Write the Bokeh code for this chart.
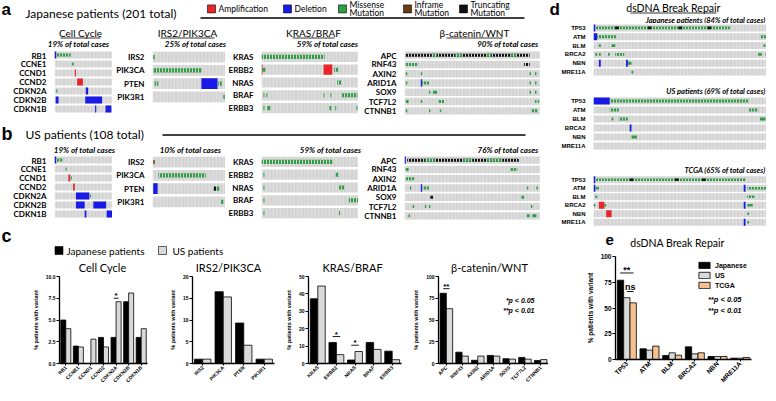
import math
from bokeh.plotting import figure
from bokeh.models import (Range1d, FactorRange, ColumnDataSource, Label, Legend,
                          LegendItem, FixedTicker, Spacer)
from bokeh.layouts import row, column
from bokeh.transform import dodge
from bokeh.core.properties import value
from bokeh.embed import file_html
from bokeh.resources import INLINE

# ---------------- data: oncoprints (gene, start %, end %, alteration) ----------------
TRACK = 100

CC_GENES = ["RB1", "CCNE1", "CCND1", "CCND2", "CDKN2A", "CDKN2B", "CDKN1B"]
IRS_GENES = ["IRS2", "PIK3CA", "PTEN", "PIK3R1"]
KR_GENES = ["KRAS", "ERBB2", "NRAS", "BRAF", "ERBB3"]
WNT_GENES = ["APC", "RNF43", "AXIN2", "ARID1A", "SOX9", "TCF7L2", "CTNNB1"]
DS_GENES = ["TP53", "ATM", "BLM", "BRCA2", "NBN", "MRE11A"]

JP_CC_ALT = [("RB1", 0, 3, "del"), ("RB1", 4, 28, "mis"), ("CCNE1", 30, 33, "mis"),
             ("CCND1", 35, 37, "amp"), ("CCND2", 39, 49, "amp"), ("CDKN2A", 3, 5, "mis"),
             ("CDKN2A", 54, 58, "del"), ("CDKN2B", 2, 7, "del"), ("CDKN2B", 53, 82, "del"),
             ("CDKN1B", 70, 72, "del"), ("CDKN1B", 88, 98, "del")]
JP_IRS_ALT = [("IRS2", 1, 3, "mis"), ("PIK3CA", 1, 67, "mis"), ("PTEN", 3, 8, "mis"),
              ("PTEN", 67, 89, "del"), ("PTEN", 90, 95, "mis"), ("PIK3R1", 97, 99, "mis")]
JP_KR_ALT = [("KRAS", 0, 65, "mis"), ("ERBB2", 0, 1, "amp"), ("ERBB2", 1, 4, "mis"),
             ("ERBB2", 64, 73, "amp"), ("ERBB2", 75, 80, "mis"), ("NRAS", 78, 83, "mis"),
             ("BRAF", 2, 3, "mis"), ("BRAF", 5, 6, "mis"), ("BRAF", 64, 65, "mis"),
             ("BRAF", 71, 72, "mis"), ("BRAF", 83, 99, "mis"), ("ERBB3", 2, 3, "mis"),
             ("ERBB3", 6, 9, "mis"), ("ERBB3", 70, 72, "mis"), ("ERBB3", 76, 77, "mis"),
             ("ERBB3", 98, 99, "mis")]
JP_WNT_ALT = [("APC", 1, 92, "trunc"), ("APC", 20, 24, "mis"), ("APC", 37, 43, "mis"),
              ("APC", 60, 64, "mis"), ("APC", 78, 82, "mis"), ("RNF43", 1, 10, "mis"),
              ("RNF43", 88, 92, "trunc"), ("AXIN2", 1, 2, "mis"), ("AXIN2", 12, 13, "mis"),
              ("AXIN2", 92, 93, "mis"), ("AXIN2", 96, 97, "mis"), ("ARID1A", 1, 2, "mis"),
              ("ARID1A", 12, 13, "del"), ("ARID1A", 13, 18, "mis"), ("ARID1A", 92, 93, "mis"),
              ("ARID1A", 96, 97, "mis"), ("SOX9", 18, 19, "mis"), ("SOX9", 21, 24, "mis"),
              ("SOX9", 92, 93, "mis"), ("SOX9", 96, 97, "mis"), ("TCF7L2", 1, 3, "mis"),
              ("TCF7L2", 12, 13, "mis"), ("TCF7L2", 25, 29, "mis"), ("TCF7L2", 96, 97, "mis"),
              ("TCF7L2", 98, 99, "mis"), ("CTNNB1", 1, 2, "mis"), ("CTNNB1", 18, 19, "mis"),
              ("CTNNB1", 26, 27, "mis"), ("CTNNB1", 93, 98, "mis")]

US_CC_ALT = [("RB1", 0, 3, "del"), ("RB1", 3, 14, "mis"), ("CCNE1", 19, 21, "mis"),
             ("CCND1", 24, 27, "amp"), ("CCND1", 28, 30, "mis"), ("CCND2", 32, 35, "amp"),
             ("CDKN2A", 37, 60, "del"), ("CDKN2A", 61, 63, "mis"), ("CDKN2B", 37, 52, "del"),
             ("CDKN2B", 67, 89, "del"), ("CDKN1B", 52, 55, "del"), ("CDKN1B", 90, 100, "del")]
US_IRS_ALT = [("IRS2", 1, 3, "inf"), ("PIK3CA", 8, 73, "mis"), ("PTEN", 1, 7, "del"),
              ("PTEN", 84, 87, "trunc"), ("PTEN", 88, 92, "mis"), ("PIK3R1", 94, 97, "mis")]
US_KR_ALT = [("KRAS", 0, 73, "mis"), ("ERBB2", 2, 3, "mis"), ("ERBB2", 76, 80, "mis"),
             ("NRAS", 2, 3, "mis"), ("NRAS", 80, 86, "mis"), ("BRAF", 2, 3, "mis"),
             ("BRAF", 90, 100, "mis"), ("ERBB3", 2, 3, "mis"), ("ERBB3", 80, 81, "mis")]
US_WNT_ALT = [("APC", 0, 1, "del"), ("APC", 2, 84, "trunc"), ("APC", 15, 23, "mis"),
              ("APC", 43, 50, "mis"), ("APC", 60, 72, "mis"), ("RNF43", 1, 3, "mis"),
              ("RNF43", 78, 83, "mis"), ("AXIN2", 1, 7, "mis"), ("ARID1A", 4, 5, "mis"),
              ("ARID1A", 12, 13, "del"), ("ARID1A", 14, 18, "mis"), ("ARID1A", 90, 91, "mis"),
              ("ARID1A", 97, 98, "mis"), ("SOX9", 19, 21, "trunc"), ("SOX9", 86, 88, "mis"),
              ("TCF7L2", 6, 7, "mis"), ("TCF7L2", 15, 16, "mis"), ("TCF7L2", 18, 19, "mis"),
              ("TCF7L2", 93, 94, "mis"), ("CTNNB1", 3, 4, "mis"), ("CTNNB1", 90, 92, "mis"),
              ("CTNNB1", 94, 97, "mis")]

JPD_ALT = [("TP53", 0, 1, "del"), ("TP53", 1, 76, "mis"), ("TP53", 12, 14, "trunc"),
           ("TP53", 30, 32, "trunc"), ("TP53", 47, 49, "trunc"), ("TP53", 63, 65, "trunc"),
           ("ATM", 0, 2, "del"), ("ATM", 2, 13, "mis"), ("ATM", 92, 96, "mis"),
           ("BLM", 3, 4, "mis"), ("BLM", 10, 12, "mis"), ("BLM", 94, 95, "mis"),
           ("BRCA2", 1, 2, "mis"), ("BRCA2", 3, 4, "mis"), ("BRCA2", 8, 9, "mis"),
           ("BRCA2", 12, 17, "mis"), ("BRCA2", 91, 93, "mis"), ("BRCA2", 95, 98, "mis"),
           ("NBN", 3, 4, "del"), ("NBN", 18, 19, "del"), ("NBN", 19, 21, "mis"),
           ("MRE11A", 21, 22, "mis"), ("MRE11A", 96, 97, "mis")]
USD_ALT = [("TP53", 0, 9, "del"), ("TP53", 9, 86, "mis"), ("ATM", 9, 14, "mis"),
           ("ATM", 86, 91, "mis"), ("BLM", 10, 11, "mis"), ("BLM", 14, 19, "mis"),
           ("BLM", 92, 95, "mis"), ("BRCA2", 20, 21, "del"), ("BRCA2", 96, 97, "trunc"),
           ("BRCA2", 98, 100, "mis"), ("NBN", 21, 24, "mis"), ("MRE11A", 98, 99, "mis")]
TCGA_ALT = [("TP53", 0, 1, "del"), ("TP53", 1, 84, "mis"), ("TP53", 20, 22, "trunc"),
            ("TP53", 45, 47, "trunc"), ("TP53", 60, 62, "trunc"), ("ATM", 0, 1, "del"),
            ("ATM", 1, 3, "mis"), ("ATM", 83, 84, "del"), ("ATM", 85, 99, "mis"),
            ("BLM", 1, 2, "mis"), ("BLM", 85, 89, "mis"), ("BLM", 96, 97, "mis"),
            ("BRCA2", 0, 1, "mis"), ("BRCA2", 3, 6, "amp"), ("BRCA2", 6, 7, "mis"),
            ("BRCA2", 83, 84, "del"), ("BRCA2", 85, 88, "mis"), ("BRCA2", 96, 97, "mis"),
            ("NBN", 7, 10, "amp"), ("NBN", 85, 86, "mis"), ("NBN", 98, 100, "amp"),
            ("MRE11A", 83, 84, "del"), ("MRE11A", 85, 86, "mis")]

# ---------------- data: bar charts (% patients with variant) ----------------
CC_JP = [5.0, 2.0, 0.0, 3.0, 3.0, 7.1, 3.0]
CC_US = [4.0, 1.9, 2.8, 1.9, 7.1, 8.1, 4.0]
IRS_JP = [1.0, 16.5, 9.3, 1.0]
IRS_US = [1.0, 15.3, 4.2, 1.0]
KR_JP = [37.2, 12.1, 2.0, 12.1, 7.1]
KR_US = [44.5, 5.1, 6.9, 8.1, 2.2]
WNT_JP = [80.7, 13.0, 3.7, 9.3, 5.5, 7.0, 3.5]
WNT_US = [63.0, 8.5, 8.5, 8.5, 5.0, 5.0, 4.5]
DS_JP = [77.0, 10.4, 3.9, 12.3, 2.9, 1.3]
DS_US = [60.0, 9.1, 6.5, 5.5, 2.9, 1.3]
DS_TCGA = [55.0, 13.0, 4.2, 6.5, 2.9, 2.0]

CC_SIG = [("CDKN2A", -0.2, 0.2, 7.5, "*")]
KR_SIG = [("ERBB2", -0.2, 0.2, 15.5, "*"), ("NRAS", -0.2, 0.2, 10.5, "*")]
WNT_SIG = [("APC", -0.2, 0.2, 86.0, "**")]
DS_SIG = [("TP53", -0.3, 0.3, 84.0, "**"), ("TP53", 0.0, 0.3, 66.0, "ns")]

# ---------------- styles ----------------
FONT = "Lato"
AXF = "Liberation Sans"
C_AMP, C_DEL, C_MIS, C_INF, C_TRU = "#e8262a", "#1a1ae6", "#2f9e44", "#6b3d12", "#111111"
C_BG = "#d3d3d3"
C_JP, C_US, C_TCGA = "#000000", "#d9d9d9", "#f6c18e"


def base_fig(**kw):
    return figure(output_backend="svg", toolbar_location=None, frame_align=False, **kw)


def blank(x0, x1, y0, y1):
    p = base_fig(width=x1 - x0, height=y1 - y0, x_range=Range1d(x0, x1),
                 y_range=Range1d(y1, y0), x_axis_location=None, y_axis_location=None,
                 min_border_left=0, min_border_right=0, min_border_top=0, min_border_bottom=0)
    p.grid.visible = False
    p.outline_line_color = None
    return p


def txt(p, x, y, s, size, style="normal", align="left", font=FONT):
    p.text(x=[x], y=[y], text=[s], text_font=value(font), text_font_size=f"{size}px",
           text_font_style=style, text_align=align, text_baseline="middle", text_color="black")


def uline(p, x0, x1, y, w=1.0):
    p.segment(x0=[x0], y0=[y], x1=[x1], y1=[y], line_color="black", line_width=w)


def swatch(p, cx, cy, color, s=8):
    p.rect(x=[cx], y=[cy], width=s, height=s, fill_color=color, line_color="black", line_width=0.6)


KIND_STYLE = [("amp", C_AMP, 0.8), ("del", C_DEL, 0.8), ("trunc", C_TRU, 0.32),
              ("inf", C_INF, 0.32), ("mis", C_MIS, 0.32)]


def onco(genes, alts, w, h, left, bottom=0, top=0, xmax=TRACK, lab_font=FONT, lab_size=8):
    p = base_fig(width=w, height=h, x_range=Range1d(0, xmax), y_range=FactorRange(*genes[::-1]),
                 x_axis_location=None, min_border_left=left, min_border_right=0,
                 min_border_top=top, min_border_bottom=bottom)
    p.grid.visible = False
    p.outline_line_color = None
    ax = p.yaxis[0]
    ax.axis_line_color = None
    ax.major_tick_line_color = None
    ax.minor_tick_line_color = None
    ax.major_label_standoff = 2
    ax.major_label_text_font = lab_font
    ax.major_label_text_font_size = f"{lab_size}px"
    ax.major_label_text_font_style = "bold"
    ax.major_label_text_color = "black"
    p.hbar(y=genes, left=0, right=TRACK, height=0.8, fill_color=C_BG, line_color=None,
           hatch_pattern="|", hatch_color="white", hatch_alpha=0.55, hatch_scale=3.5,
           hatch_weight=0.7)
    for kind, col, hh in KIND_STYLE[:2]:
        sel = [a for a in alts if a[3] == kind]
        if sel:
            p.hbar(y=[a[0] for a in sel], left=[a[1] for a in sel], right=[a[2] for a in sel],
                   height=hh, fill_color=col, line_color=None)
    for kind, col, hh in KIND_STYLE[2:]:
        sel = [a for a in alts if a[3] == kind and a[2] - a[1] > 3]
        if sel:
            p.hbar(y=[a[0] for a in sel], left=[a[1] for a in sel], right=[a[2] for a in sel],
                   height=hh, fill_color=col, line_color=None, hatch_pattern="|",
                   hatch_color=C_BG, hatch_scale=3.0, hatch_weight=1.0)
    for kind, col, hh in KIND_STYLE[2:]:
        sel = [a for a in alts if a[3] == kind and a[2] - a[1] <= 3]
        if sel:
            p.hbar(y=[a[0] for a in sel], left=[a[1] for a in sel], right=[a[2] for a in sel],
                   height=hh, fill_color=col, line_color=None)
    return p


def bar_chart(genes, series, colors, ymax, ticks, labels, fw, fh, left, right, top,
              bw, offsets, tick_px, lab_px, sig, star_px):
    p = base_fig(frame_width=fw, frame_height=fh, x_range=FactorRange(*genes),
                 y_range=Range1d(0, ymax), min_border_left=left, min_border_right=right,
                 min_border_top=top, min_border_bottom=4)
    data = {"g": genes}
    for i, s in enumerate(series):
        data[f"s{i}"] = s
    src = ColumnDataSource(data)
    rends = []
    for i, c in enumerate(colors):
        rends.append(p.vbar(x=dodge("g", offsets[i], range=p.x_range), top=f"s{i}", width=bw,
                            source=src, fill_color=c, line_color="black", line_width=0.8))
    for g, a, b, y, t in sig:
        s1 = ColumnDataSource(dict(g=[g], y=[y], t=[t]))
        p.segment(x0=dodge("g", a, range=p.x_range), x1=dodge("g", b, range=p.x_range),
                  y0="y", y1="y", source=s1, line_color="black", line_width=0.9)
        p.text(x=dodge("g", (a + b) / 2, range=p.x_range), y="y", text="t", source=s1,
               text_align="center", text_baseline="bottom", text_font=value(AXF),
               text_font_size=f"{star_px}px", text_font_style="bold",
               y_offset=(2 if t != "ns" else 0))
    p.grid.visible = False
    p.outline_line_color = None
    p.yaxis.ticker = FixedTicker(ticks=ticks)
    p.yaxis.major_label_overrides = {t: l for t, l in zip(ticks, labels)}
    for ax in p.axis:
        ax.axis_line_width = 1.3
        ax.axis_line_color = "black"
        ax.major_tick_line_color = "black"
        ax.major_tick_line_width = 1.1
        ax.major_tick_in = 0
        ax.major_tick_out = 3
        ax.minor_tick_line_color = None
        ax.major_label_text_font = AXF
        ax.major_label_text_font_style = "bold"
        ax.major_label_text_font_size = f"{tick_px}px"
        ax.major_label_text_color = "black"
        ax.major_label_standoff = 1
    p.xaxis.major_label_orientation = math.pi / 4
    p.xaxis.major_tick_out = 2
    p.yaxis.axis_label = "% patients with variant"
    p.yaxis.axis_label_text_font = AXF
    p.yaxis.axis_label_text_font_size = f"{lab_px}px"
    p.yaxis.axis_label_text_font_style = "bold"
    p.yaxis.axis_label_text_color = "black"
    p.yaxis.axis_label_standoff = 4
    return p, rends


# ================= left column (ref x 8..550) =================
hA = blank(8, 550, 8, 58)
txt(hA, 9, 17, "a", 17, "bold", font=AXF)
txt(hA, 33, 21, "Japanese patients (201 total)", 12)
LY, L1, L2 = 16.4, 12.4, 20.6
swatch(hA, 219, LY, C_AMP)
txt(hA, 226, LY, "Amplification", 8.5)
swatch(hA, 295, LY, C_DEL)
txt(hA, 302, LY, "Deletion", 8.5)
swatch(hA, 350, LY, C_MIS)
txt(hA, 357, L1, "Missense", 8.5)
txt(hA, 357, L2, "Mutation", 8.5)
swatch(hA, 415, LY, C_INF)
txt(hA, 422, L1, "Inframe", 8.5)
txt(hA, 422, L2, "Mutation", 8.5)
swatch(hA, 471, LY, C_TRU)
txt(hA, 478, L1, "Truncating", 8.5)
txt(hA, 478, L2, "Mutation", 8.5)
uline(hA, 208, 532, 25.5, 1.5)
for cx, t, x0, x1 in [(88, "Cell Cycle", 68, 108), (195, "IRS2/PIK3CA", 168, 222),
                      (321, "KRAS/BRAF", 300, 342), (482, "β-catenin/WNT", 454, 510)]:
    txt(hA, cx, 40, t, 10, align="center")
    uline(hA, x0, x1, 45.5, 0.8)
txt(hA, 86, 51.5, "19% of total cases", 8, "bold italic", "center")
txt(hA, 203, 51.5, "25% of total cases", 8, "bold italic", "center")
txt(hA, 335, 51.5, "59% of total cases", 8, "bold italic", "center")
txt(hA, 546, 51.5, "90% of total cases", 8, "bold italic", "right")

oA = row(onco(CC_GENES, JP_CC_ALT, 112, 65, 54, bottom=2),
         onco(IRS_GENES, JP_IRS_ALT, 113, 65, 40, bottom=12),
         onco(KR_GENES, JP_KR_ALT, 133, 65, 35, bottom=1),
         onco(WNT_GENES, JP_WNT_ALT, 182, 65, 46, bottom=0),
         Spacer(width=2, height=65))

hB = blank(8, 550, 123, 163)
txt(hB, 9, 141, "b", 18, "bold", font=AXF)
txt(hB, 33, 142, "US patients (108 total)", 12)
uline(hB, 170, 533, 142.5, 1.5)
txt(hB, 92, 157.5, "19% of total cases", 8, "bold italic", "center")
txt(hB, 198, 157.5, "10% of total cases", 8, "bold italic", "center")
txt(hB, 338, 157.5, "59% of total cases", 8, "bold italic", "center")
txt(hB, 546, 157.5, "76% of total cases", 8, "bold italic", "right")

oB = row(onco(CC_GENES, US_CC_ALT, 112, 65, 54, bottom=2),
         onco(IRS_GENES, US_IRS_ALT, 113, 65, 40, bottom=12),
         onco(KR_GENES, US_KR_ALT, 133, 65, 35, bottom=1),
         onco(WNT_GENES, US_WNT_ALT, 182, 65, 46, bottom=0),
         Spacer(width=2, height=65))

hC = blank(8, 550, 228, 282)
txt(hC, 9, 243, "c", 18, "bold", font=AXF)
swatch(hC, 66.5, 258, C_JP)
txt(hC, 74, 258, "Japanese patients", 10)
swatch(hC, 170, 258, C_US)
txt(hC, 180, 258, "US patients", 10)
txt(hC, 110, 275, "Cell Cycle", 11, align="center")
txt(hC, 236, 275, "IRS2/PIK3CA", 11, align="center")
txt(hC, 360, 275, "KRAS/BRAF", 11, align="center")
txt(hC, 497, 275, "β-catenin/WNT", 11, align="center")

c1, _ = bar_chart(CC_GENES, [CC_JP, CC_US], [C_JP, C_US], 10, [0, 2.5, 5, 7.5, 10],
                  ["0.0", "2.5", "5.0", "7.5", "10.0"], 88, 87, 59, 10, 2,
                  0.4, [-0.2, 0.2], 5, 5.5, CC_SIG, 8)
c2, _ = bar_chart(IRS_GENES, [IRS_JP, IRS_US], [C_JP, C_US], 20, [0, 5, 10, 15, 20],
                  ["0", "5", "10", "15", "20"], 82, 87, 35, 8, 2,
                  0.4, [-0.2, 0.2], 5, 5.5, [], 8)
c3, _ = bar_chart(KR_GENES, [KR_JP, KR_US], [C_JP, C_US], 50, [0, 10, 20, 30, 40, 50],
                  ["0", "10", "20", "30", "40", "50"], 93, 87, 23, 9, 2,
                  0.4, [-0.2, 0.2], 5, 5.5, KR_SIG, 8)
c4, _ = bar_chart(WNT_GENES, [WNT_JP, WNT_US], [C_JP, C_US], 100, [0, 25, 50, 75, 100],
                  ["0", "25", "50", "75", "100"], 110, 87, 25, 0, 2,
                  0.4, [-0.2, 0.2], 5, 5.5, WNT_SIG, 8)
c4.add_layout(Label(x=96, y=63, x_units="screen", y_units="screen", text="*p < 0.05",
                    text_align="right", text_baseline="middle", text_font=AXF,
                    text_font_size="7px", text_font_style="bold italic", text_color="black"))
c4.add_layout(Label(x=96, y=53, x_units="screen", y_units="screen", text="**p < 0.01",
                    text_align="right", text_baseline="middle", text_font=AXF,
                    text_font_size="7px", text_font_style="bold italic", text_color="black"))
rC = row(c1, c2, c3, c4)

left = column(hA, oA, hB, oB, hC, rC)

# ================= right column (ref x 550..768) =================
hD = blank(550, 768, 8, 31)
txt(hD, 551, 17, "d", 17, "bold", font=AXF)
txt(hD, 675, 15, "dsDNA Break Repair", 10.5, align="center")
uline(hD, 632, 718, 20.5, 0.8)
txt(hD, 767, 27.5, "Japanese patients (84% of total cases)", 7.5, "bold italic", "right")

DX = 95.6
d1 = onco(DS_GENES, JPD_ALT, 218, 53, 45, xmax=DX, lab_font=AXF, lab_size=6)
mD1 = blank(550, 768, 84, 104)
txt(mD1, 767, 99, "US patients (69% of total cases)", 7.5, "bold italic", "right")
d2 = onco(DS_GENES, USD_ALT, 218, 54, 45, xmax=DX, lab_font=AXF, lab_size=6)
mD2 = blank(550, 768, 158, 183)
txt(mD2, 767, 178, "TCGA (65% of total cases)", 7.5, "bold italic", "right")
d3 = onco(DS_GENES, TCGA_ALT, 218, 51, 45, xmax=DX, lab_font=AXF, lab_size=6)

hE = blank(550, 768, 234, 258)
txt(hE, 607, 247, "e", 15, "bold", font=AXF)
txt(hE, 679, 250, "dsDNA Break Repair", 10.5, align="center")

e, er = bar_chart(DS_GENES, [DS_JP, DS_US, DS_TCGA], [C_JP, C_US, C_TCGA], 100,
                  [0, 25, 50, 75, 100], ["0", "25", "50", "75", "100"], 136, 103, 67, 15, 6,
                  0.28, [-0.28, 0.0, 0.28], 6.5, 6.5, DS_SIG, 9)
leg = Legend(items=[LegendItem(label=n, renderers=[r]) for n, r in
                    zip(["Japanese", "US", "TCGA"], er)], location=(82, 70))
leg.background_fill_alpha = 0
leg.border_line_alpha = 0
leg.label_text_font = AXF
leg.label_text_font_size = "7px"
leg.label_text_font_style = "bold"
leg.label_text_color = "black"
leg.glyph_width = 14
leg.glyph_height = 8
leg.label_height = 8
leg.spacing = 2
leg.padding = 0
leg.margin = 0
leg.label_standoff = 4
leg.click_policy = "none"
e.add_layout(leg)
e.add_layout(Label(x=126, y=60, x_units="screen", y_units="screen", text="**p < 0.05",
                   text_align="right", text_baseline="middle", text_font=AXF,
                   text_font_size="7.5px", text_font_style="bold italic", text_color="black"))
e.add_layout(Label(x=126, y=49, x_units="screen", y_units="screen", text="**p < 0.01",
                   text_align="right", text_baseline="middle", text_font=AXF,
                   text_font_size="7.5px", text_font_style="bold italic", text_color="black"))

right = column(hD, d1, mD1, d2, mD2, d3, hE, e)

page = row(left, right)
open("out.html", "w").write(file_html(page, INLINE))
